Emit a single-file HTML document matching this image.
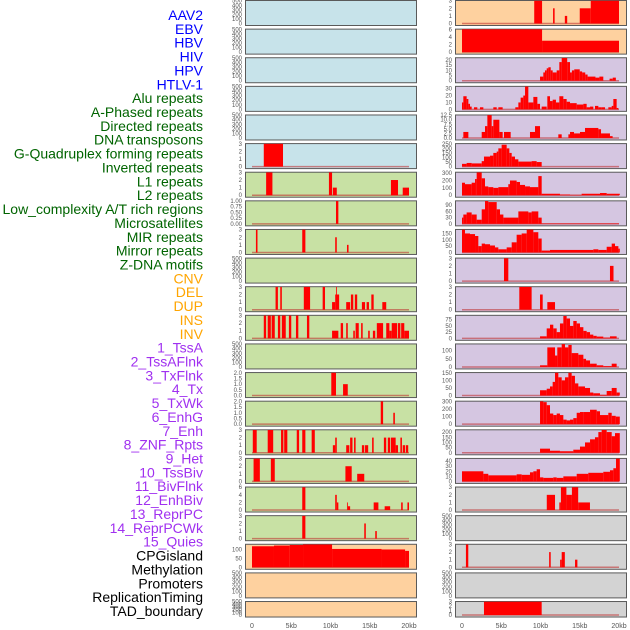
<!DOCTYPE html>
<html><head><meta charset="utf-8"><style>
body{margin:0;background:#fff;width:630px;height:630px;overflow:hidden}
svg{display:block;font-family:"Liberation Sans",sans-serif}
</style></head><body>
<svg id="chart" width="630" height="630" viewBox="0 0 630 630"></svg>
<script>
const trackLabels = ["AAV2","EBV","HBV","HIV","HPV","HTLV-1","Alu repeats","A-Phased repeats","Directed repeats","DNA transposons","G-Quadruplex forming repeats","Inverted repeats","L1 repeats","L2 repeats","Low_complexity A/T rich regions","Microsatellites","MIR repeats","Mirror repeats","Z-DNA motifs","CNV","DEL","DUP","INS","INV","1_TssA","2_TssAFlnk","3_TxFlnk","4_Tx","5_TxWk","6_EnhG","7_Enh","8_ZNF_Rpts","9_Het","10_TssBiv","11_BivFlnk","12_EnhBiv","13_ReprPC","14_ReprPCWk","15_Quies","CPGisland","Methylation","Promoters","ReplicationTiming","TAD_boundary"];
const labelGroups = ["v","v","v","v","v","v","r","r","r","r","r","r","r","r","r","r","r","r","r","s","s","s","s","s","c","c","c","c","c","c","c","c","c","c","c","c","c","c","c","k","k","k","k","k"];
const xTickLabels = ["0","5kb","10kb","15kb","20kb"];
const xTickValues = [0,5,10,15,20];

const E500 = ["0","100","200","300","400","500"];
const T3 = ["0","1","2","3"];
const T6 = ["0","2","4","6"];
const leftTicks = [E500,E500,E500,E500,E500,T3,T3,["0.00","0.25","0.50","0.75","1.00"],T3,E500,T3,T3,E500,["0.0","0.5","1.0","1.5","2.0"],["0.0","0.5","1.0","1.5","2.0"],T3,T3,T6,T3,["0","50","100"],E500,E500];
const leftMax = [500,500,500,500,500,3,3,1,3,500,3,3,500,2,2,3,3,6,3,128,500,500];
const leftBg = ["b","b","b","b","b","b","g","g","g","g","g","g","g","g","g","g","g","g","g","o","o","o"];
const leftBars = [
 [],[],[],[],[],
 [[1.5,3.95,3]],
 [[1.8,2.6,3],[9.8,10.2,3],[10.3,10.8,1],[17.7,18.6,2],[19.2,20,1]],
 [[10.7,11.0,1]],
 [[0.5,0.7,3],[6.4,6.8,3],[10.6,10.8,2],[12.1,12.3,1]],
 [],
 [[3.0,3.3,3],[3.6,3.8,3],[6.6,7.4,3],[9.0,9.3,3],[10.2,10.6,1],[10.6,11.1,2],[10.7,10.8,3],[12.0,12.5,1],[12.6,12.9,2],[13.1,13.4,2],[14.0,14.4,1],[14.6,14.9,1],[15.2,15.5,2],[16.6,17.1,1]],
 [[1.5,1.8,3],[2.0,2.4,3],[2.5,2.9,3],[3.3,3.6,3],[3.8,4.3,3],[4.7,5.0,3],[5.6,5.9,3],[7.0,7.3,3],[10.2,11.0,1],[11.3,11.6,2],[12.0,12.2,2],[12.9,13.1,1],[13.2,13.6,2],[13.9,14.1,2],[14.8,15.0,1],[15.4,15.7,1],[15.9,16.7,2],[17.1,17.5,2],[17.5,17.8,1],[17.8,18.5,2],[18.6,18.9,2],[19.0,19.4,2],[19.4,20,1]],
 [],
 [[10.1,10.7,2],[11.6,12.2,1]],
 [[16.4,16.7,2],[18.0,18.2,1]],
 [[0.1,0.6,3],[2.0,2.7,3],[3.7,4.0,3],[4.1,4.5,3],[5.7,6.0,3],[6.4,6.8,3],[7.6,8.0,3],[10.3,10.6,1],[10.6,10.8,2],[12.0,12.4,1],[12.5,12.8,2],[13.0,13.2,2],[14.0,14.3,1],[14.4,14.8,1],[15.3,15.5,2],[16.8,17.1,2],[17.3,17.6,2],[17.7,18.3,2],[18.3,18.6,1],[18.9,19.1,2],[19.2,19.5,1],[19.6,19.9,1]],
 [[0.2,1.0,3],[2.4,2.9,3],[11.9,12.7,2],[13.4,14.3,1]],
 [[6.4,6.8,6],[10.6,10.8,4],[10.8,11.0,2],[12.1,12.2,2],[12.2,12.5,1],[15.5,16.1,2],[16.9,17.6,1],[19.0,19.2,2],[19.8,20,2]],
 [[6.4,6.8,3],[14.3,14.5,2],[15.7,15.9,1]],
 [[0,2.8,118],[2.8,4.8,122],[4.8,6.5,125],[6.5,10.2,128],[10.2,16.5,103],[16.5,19.5,100],[19.5,20,92]],
 [],[]
];

const rightTicks = [T3,T6,["0","5","10","15","20"],["0","10","20","30"],["0.0","2.5","5.0","7.5","10.0","12.5"],["0","50","100","150","200","250"],["0","100","200","300"],["0","30","60","90"],["0","50","100","150"],T3,T3,["0","25","50","75"],["0","50","100"],["0","50","100","150"],["0","100","200","300"],["0","50","100","150","200"],["0","10","20","30","40"],T3,E500,T3,E500,T3];
const rightMax = [3,6,22,33,12.5,250,310,110,180,3,3,92,140,150,300,220,45,3,500,3,500,3];
const rightBg = ["o","o","p","p","p","p","p","p","p","p","p","p","p","p","p","p","p","k","k","k","k","k"];
const rightBars = [
 [[9.2,10.2,3],[11.6,11.8,2],[13.1,13.4,1],[15.0,16.4,2],[16.4,20,3]],
 [[0,10.2,6],[10.2,20,3]],
 [[9.94,10.36,4],[10.36,10.57,8],[10.57,10.79,10],[10.79,11.0,12],[11.0,11.3,13],[11.3,11.55,10],[11.55,12.06,8],[12.06,12.4,10],[12.4,12.7,18],[12.7,13.4,22],[13.4,13.76,18],[13.76,14.0,8],[14.0,14.3,10],[14.3,15.0,11],[15.0,15.3,9],[15.3,15.7,8],[15.7,16.0,6],[16.0,17.0,4],[17.0,17.5,3],[17.5,18.0,4],[18.8,19.2,2],[19.2,19.6,3]],
 [[0,0.17,10],[0.17,0.59,19],[0.59,0.81,15],[0.81,1.02,8],[1.02,1.23,4],[1.53,1.95,3],[2.29,2.72,3],[3.99,4.42,3],[4.63,5.18,3],[6.79,7.18,3],[7.18,7.47,10],[7.47,7.81,17],[7.81,8.03,20],[8.03,8.45,33],[8.45,9.09,10],[9.09,9.6,18],[9.6,9.94,8],[10.15,10.79,4],[10.87,11.21,19],[11.21,11.55,12],[11.55,11.97,14],[11.97,12.4,10],[12.4,12.91,19],[12.91,13.33,15],[13.33,13.76,11],[13.76,14.61,9],[14.61,15.46,7],[15.46,15.88,8],[15.88,16.31,3],[16.31,16.73,4],[16.94,17.37,5],[17.37,17.79,3],[17.79,18.22,3],[18.64,19.07,3],[19.07,19.28,5],[19.28,19.7,15],[19.7,19.92,2]],
 [[0.17,0.81,3.3],[2.51,2.93,3.3],[2.93,3.23,6.5],[3.23,3.78,12.5],[3.78,3.99,6.5],[3.99,4.76,10],[4.76,5.18,3.3],[5.35,6.2,3.3],[8.66,9.3,3.3],[9.3,9.94,6.5],[12.27,12.7,2],[13.55,13.76,2],[13.76,14.27,3.3],[14.27,15.03,2.5],[15.03,15.67,3.3],[15.67,17.37,5.5],[17.37,17.71,4.8],[17.71,18.85,2.5],[18.85,19.19,1]],
 [[0,0.59,30],[0.59,1.23,40],[1.23,2.51,35],[2.51,2.8,60],[2.8,3.57,110],[3.57,3.99,120],[3.99,4.42,150],[4.42,4.63,165],[4.63,5.05,200],[5.05,5.69,240],[5.69,6.03,200],[6.03,6.33,150],[6.33,6.75,110],[6.75,7.18,80],[7.18,8.87,55],[8.87,9.51,60],[9.51,10.15,50]],
 [[0,0.38,170],[0.38,1.23,150],[1.23,1.66,170],[1.66,1.87,220],[1.87,2.51,310],[2.51,2.93,230],[2.93,3.35,120],[3.35,3.99,110],[3.99,4.63,100],[4.63,5.9,110],[5.9,6.11,150],[6.11,6.96,200],[6.96,7.39,180],[7.39,8.03,140],[8.03,8.66,120],[8.66,9.72,110],[9.72,10.15,260],[10.15,12.48,20],[12.48,13.76,10],[13.76,15.24,5],[15.24,17.58,20],[17.58,18.43,30],[18.43,20.1,20]],
 [[0,0.17,30],[0.17,0.59,45],[0.59,1.23,55],[1.23,1.87,45],[1.87,2.51,20],[2.51,2.93,70],[2.93,3.35,110],[3.35,4.42,105],[4.42,4.84,70],[4.84,5.27,45],[5.27,7.18,30],[7.18,8.45,60],[8.45,8.87,55],[8.87,9.72,60],[9.72,10.15,30],[10.15,20,2]],
 [[0,0.38,180],[0.38,1.02,150],[1.02,1.66,145],[1.66,2.08,130],[2.08,2.51,50],[2.51,2.93,70],[2.93,3.57,65],[3.57,4.2,55],[4.2,4.63,40],[4.63,5.69,25],[5.69,6.33,40],[6.33,6.96,80],[6.96,7.6,140],[7.6,8.24,150],[8.24,9.09,180],[9.09,9.72,160],[9.72,10.15,110],[10.15,11.21,15],[11.21,16.73,20],[16.73,17.37,25],[17.37,18.43,20],[18.43,19.07,45],[19.07,19.49,70],[19.49,19.92,50],[19.92,20.1,30]],
 [[5.35,5.9,3],[18.85,19.3,2]],
 [[7.3,8.87,3],[9.94,10.28,2],[10.87,11.85,1]],
 [[9.94,10.79,8],[10.79,11.21,40],[11.21,11.63,55],[11.63,12.06,40],[12.06,12.48,25],[12.48,12.91,60],[12.91,13.33,90],[13.33,13.76,80],[13.76,14.18,50],[14.18,14.61,70],[14.61,15.03,60],[15.03,15.46,45],[15.46,15.88,30],[15.88,16.31,25],[16.31,16.73,15],[16.73,17.16,10],[17.16,18.0,7],[18.0,18.85,3],[18.85,19.7,8]],
 [[9.94,10.87,10],[10.87,11.85,120],[11.85,12.14,70],[12.14,12.7,120],[12.7,13.12,140],[13.12,13.55,120],[13.55,13.97,135],[13.97,14.82,85],[14.82,15.46,75],[15.46,15.8,50],[15.8,16.31,40],[16.31,17.16,20],[17.16,18.0,10],[18.0,19.07,5],[19.07,19.7,20]],
 [[9.94,10.79,35],[10.79,11.21,45],[11.21,11.55,60],[11.55,11.85,90],[11.85,12.27,150],[12.27,12.7,120],[12.7,13.12,100],[13.12,13.55,120],[13.55,13.97,150],[13.97,14.39,130],[14.39,14.82,80],[14.82,15.67,60],[15.67,16.31,50],[16.31,16.73,20],[16.73,17.58,15],[17.58,18.43,5],[18.43,19.07,30],[19.07,19.7,50],[19.7,20.1,20]],
 [[9.94,10.36,300],[10.36,10.79,290],[10.79,11.21,250],[11.21,11.63,140],[11.63,12.06,120],[12.06,12.48,140],[12.48,12.91,120],[12.91,13.33,60],[13.33,13.76,50],[13.76,14.18,60],[14.18,14.61,80],[14.61,15.03,150],[15.03,15.46,160],[15.46,16.31,160],[16.31,17.16,190],[17.16,17.58,170],[17.58,18.64,120],[18.64,19.07,150],[19.07,19.58,110],[19.58,20.1,100]],
 [[9.94,11.21,40],[11.21,12.48,20],[12.48,14.18,15],[14.18,15.03,30],[15.03,15.67,60],[15.67,16.31,100],[16.31,16.94,130],[16.94,17.37,150],[17.37,17.79,200],[17.79,18.43,220],[18.43,19.07,200],[19.07,19.49,160],[19.49,20.1,190]],
 [[0,2.72,20],[2.72,3.35,15],[3.35,6.96,12],[6.96,7.6,14],[7.6,8.66,13],[8.66,9.09,18],[9.09,9.51,20],[9.51,9.94,24],[9.94,10.36,8],[10.36,11.63,7],[11.63,12.06,8],[12.06,12.91,7],[12.91,14.61,10],[14.61,16.09,15],[16.09,18.0,17],[18.0,18.85,19],[18.85,19.28,22],[19.28,19.62,26],[19.62,20.1,45]],
 [[10.8,11.85,2],[12.4,12.6,1],[12.6,13.3,3],[13.3,14.0,2],[14.0,14.8,3],[14.8,16.3,1]],
 [],
 [[0.5,0.8,3],[11.1,11.3,2],[12.5,12.7,1],[12.7,13.1,2],[14.4,14.7,1]],
 [],
 [[2.8,10.15,3]]
];

const NS = "http://www.w3.org/2000/svg";
const svg = document.getElementById("chart");
const bgColors = {b:"#c7e3ea",g:"#c8e1a4",o:"#fed19f",p:"#d5c6e1",k:"#d3d3d3"};
const labelColors = {v:"#0000ff",r:"#006400",s:"#ffa500",c:"#a030f0",k:"#000000"};
function el(tag, attrs, parent){const e=document.createElementNS(NS,tag);for(const k in attrs)e.setAttribute(k,attrs[k]);(parent||svg).appendChild(e);return e;}
function rowTop(i){return i*28.62;}
function rowH(i){return i===21?15.5:25;}

// labels
trackLabels.forEach((t,i)=>{
  const tx=el("text",{x:203,y:15+i*13.86+5,"text-anchor":"end","font-size":"14",fill:labelColors[labelGroups[i]]});
  
  
  tx.textContent=t;
});

function drawPanel(colX0, tickX, i, bg, ticks, max, bars, side){
  const top=rowTop(i), h=rowH(i), bot=top+h;
  const x0=colX0+7, x20=colX0+164;
  const xs=v=>x0+(x20-x0)*v/20;
  const y0=bot-1.5, yTop=top+0.7;
  const ys=v=>y0-(y0-yTop)*v/max;
  const g=el("g",{});
  
  
  const r=el("rect",{x:colX0+0.5,y:top+0.5,width:171,height:h,fill:bgColors[bg],stroke:"#5a5a5a","stroke-width":"1"},g);
  
  
  ticks.forEach(t=>{
    const tt=el("text",{x:tickX,y:ys(parseFloat(t))+2,"text-anchor":"end","font-size":"6",fill:"#555"},g);
    
    
    tt.textContent=t;
  });
  if(bars.length){
    const bl=el("line",{x1:xs(0),x2:xs(20),y1:y0,y2:y0,stroke:"rgba(190,40,40,0.55)","stroke-width":"1.5"},g);
    
    
  }
  bars.forEach(b=>{
    const rr=el("rect",{x:xs(b[0]),y:ys(b[2]),width:Math.max(0.8,xs(b[1])-xs(b[0])),height:y0-ys(b[2]),fill:"#ff0000"},g);
    
    
  });
}
for(let i=0;i<22;i++){
  drawPanel(245,242,i,leftBg[i],leftTicks[i],leftMax[i],leftBars[i],'left');
  drawPanel(455,452,i,rightBg[i],rightTicks[i],rightMax[i],rightBars[i],'right');
}
[245,455].forEach(cx=>{
  xTickValues.forEach((v,k)=>{
    const t=el("text",{x:cx+7+157*v/20,y:628,"text-anchor":"middle","font-size":"7",fill:"#555"});
    
    
    t.textContent=xTickLabels[k];
  });
});
</script>
</body></html>
